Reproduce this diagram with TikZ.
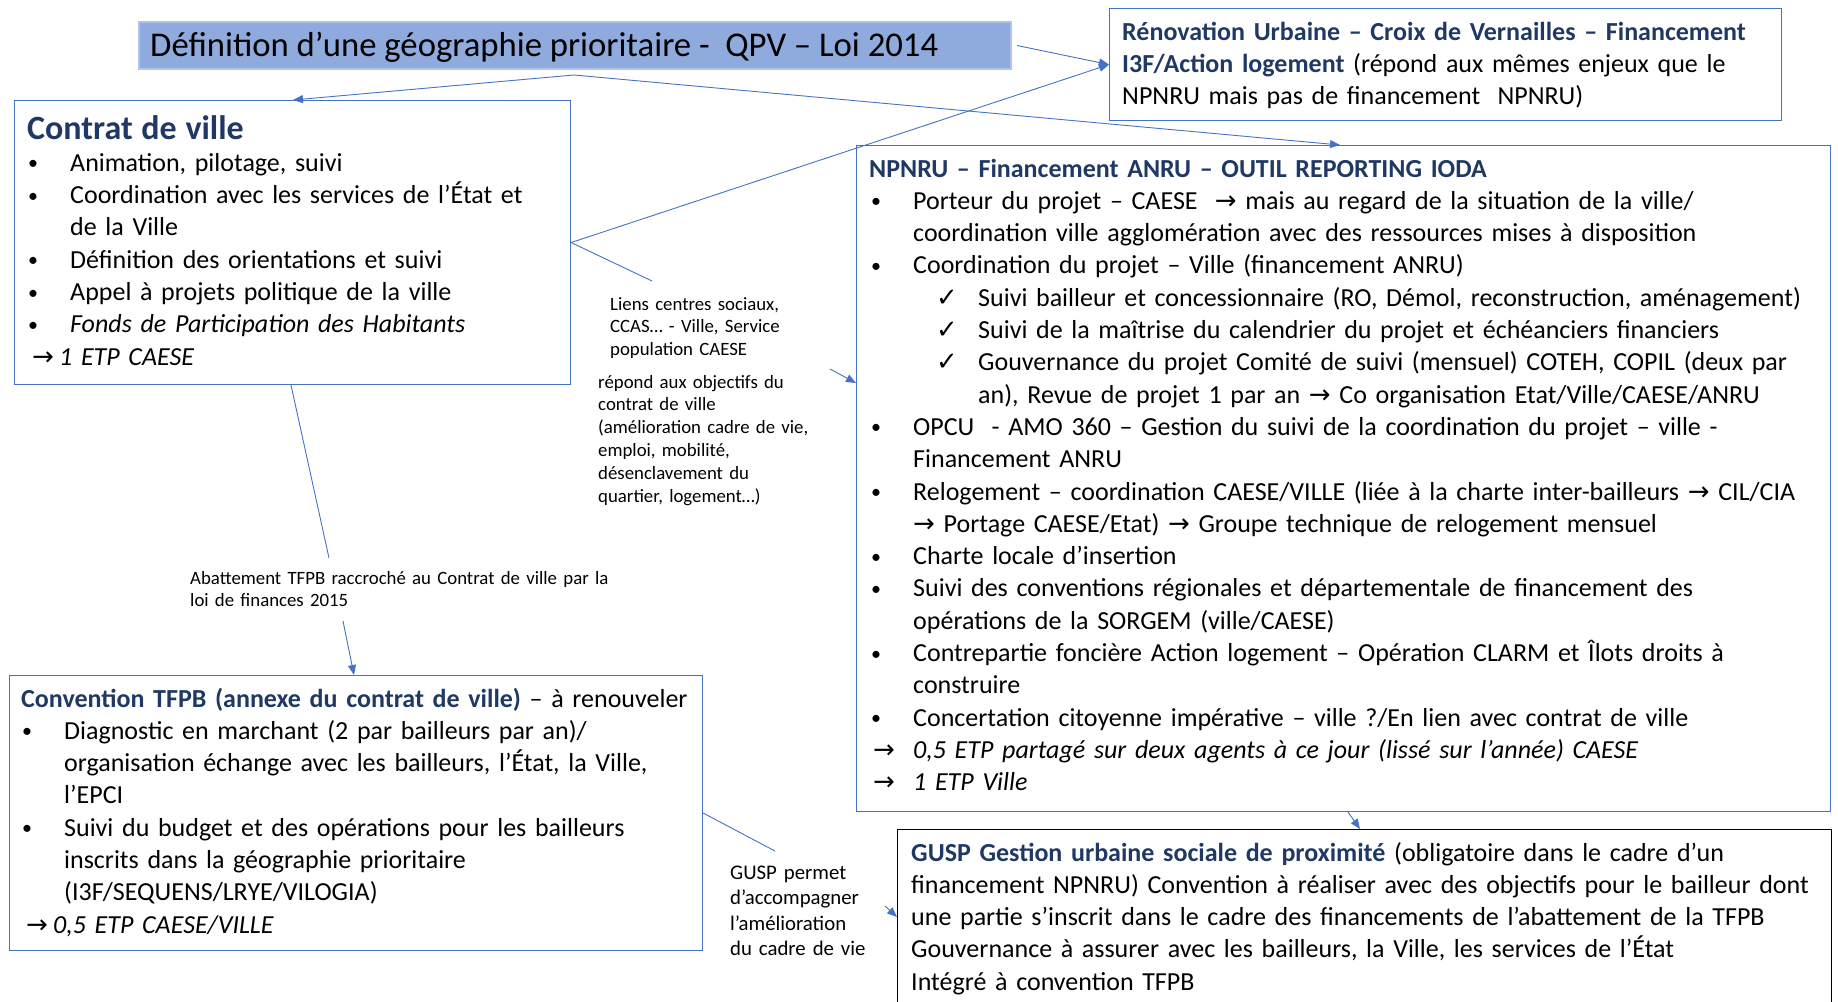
\documentclass[tikz,border=0pt]{standalone}
\usepackage{fontspec}
\setmainfont{Carlito}
\newfontfamily\symfont{DejaVu Sans}
\usepackage{tikz}
\usetikzlibrary{
  arrows.meta,
  positioning
}
\definecolor{trait}{HTML}{4472C4}
\definecolor{titrefond}{HTML}{8FAADC}
\definecolor{bleunuit}{HTML}{1F3864}
\newcommand{\flch}{{\symfont\char"2192}}
% list lines: #1 = offset of the mark, #2 = offset of the text
\newcommand{\puce}[2]{\par\noindent\hangindent=#2\hangafter=1\makebox[#2][l]{\hspace*{#1}{\fontsize{20}{20}\selectfont\raisebox{1.5pt}{\textbullet}}}\ignorespaces}
\newcommand{\coche}[2]{\par\noindent\hangindent=#2\hangafter=1\makebox[#2][l]{\hspace*{#1}{\symfont\char"2713}}\ignorespaces}
\newcommand{\lignefl}[2]{\par\noindent\hangindent=#2\hangafter=1\makebox[#2][l]{\hspace*{#1}\flch}\ignorespaces}

\begin{document}
\begin{tikzpicture}[
  x=1pt, y=-1pt,
  boite/.style={draw=trait, line width=1.1pt, anchor=north west, inner sep=0pt},
  texte/.style={anchor=base west, inner sep=0pt, align=left, text width=#1,
                font=\fontsize{26}{32.3}\selectfont},
  petit/.style={anchor=base west, inner sep=0pt, align=left, text width=#1,
                font=\fontsize{18.8}{22.8}\selectfont},
  fleche/.style={draw=trait, line width=0.9pt, -{Triangle[length=10pt,width=8pt]}},
  lien/.style={draw=trait, line width=0.9pt},
]
  \useasboundingbox (0,0) rectangle (1838,1001);
  \clip (0,0) rectangle (1838,1001);

  % Title
  \node[boite, draw=titrefond!70!white, line width=2pt, fill=titrefond,
        minimum width=872pt, minimum height=47pt] (titre) at (138,21) {};
  \node[anchor=base west, inner sep=0pt, font=\fontsize{34.7}{38}\selectfont]
    (titreTxt) at (150,56) {Définition d’une géographie prioritaire -\ \ QPV – Loi 2014};

  % Boxes
  \node[boite, minimum width=672pt, minimum height=112pt] (renov) at (1109,8) {};
  \node[boite, minimum width=556pt, minimum height=284pt] (contrat) at (14,100) {};
  \node[boite, minimum width=974pt, minimum height=666pt] (npnru) at (856,145) {};
  \node[boite, minimum width=693pt, minimum height=275pt] (tfpb) at (9,675) {};
  \node[boite, draw=black, minimum width=934pt, minimum height=200pt] (gusp) at (897,829) {};

  % Texts of the boxes
  \node[texte=660pt] (renovTxt) at (1122,40) {%
    {\bfseries\color{bleunuit}Rénovation Urbaine – Croix de Vernailles – Financement\\
    I3F/Action logement} (répond aux mêmes enjeux que le\\
    NPNRU mais pas de financement\ \ NPNRU)};

  \node[texte=540pt] (contratTxt) at (27,139) {%
    {\fontsize{34}{36}\selectfont\bfseries\color{bleunuit}Contrat de ville}
    \puce{1pt}{43pt}Animation, pilotage, suivi
    \puce{1pt}{43pt}Coordination avec les services de l’État et\break de la Ville
    \puce{1pt}{43pt}Définition des orientations et suivi
    \puce{1pt}{43pt}Appel à projets politique de la ville
    \puce{1pt}{43pt}\textit{Fonds de Participation des Habitants}
    \lignefl{5pt}{32pt}\textit{1 ETP CAESE}\par};

  \node[texte=960pt] (npnruTxt) at (869,177) {%
    {\bfseries\color{bleunuit}NPNRU – Financement ANRU – OUTIL REPORTING IODA}
    \puce{2pt}{44pt}Porteur du projet – CAESE\ \ \flch\ mais au regard de la situation de la ville/\break
      coordination ville agglomération avec des ressources mises à disposition
    \puce{2pt}{44pt}Coordination du projet – Ville (financement ANRU)
    \coche{67pt}{109pt}Suivi bailleur et concessionnaire (RO, Démol, reconstruction, aménagement)
    \coche{67pt}{109pt}Suivi de la maîtrise du calendrier du projet et échéanciers financiers
    \coche{67pt}{109pt}Gouvernance du projet Comité de suivi (mensuel) COTEH, COPIL (deux par\break
      an), Revue de projet 1 par an \flch\ Co organisation Etat/Ville/CAESE/ANRU
    \puce{2pt}{44pt}OPCU\ \ - AMO 360 – Gestion du suivi de la coordination du projet – ville -\break
      Financement ANRU
    \puce{2pt}{44pt}Relogement – coordination CAESE/VILLE (liée à la charte inter-bailleurs \flch\ CIL/CIA\break
      \flch\ Portage CAESE/Etat) \flch\ Groupe technique de relogement mensuel
    \puce{2pt}{44pt}Charte locale d’insertion
    \puce{2pt}{44pt}Suivi des conventions régionales et départementale de financement des\break
      opérations de la SORGEM (ville/CAESE)
    \puce{2pt}{44pt}Contrepartie foncière Action logement – Opération CLARM et Îlots droits à\break
      construire
    \puce{2pt}{44pt}Concertation citoyenne impérative – ville ?/En lien avec contrat de ville
    \lignefl{4pt}{44pt}\textit{0,5 ETP partagé sur deux agents à ce jour (lissé sur l’année) CAESE}
    \lignefl{4pt}{44pt}\textit{1 ETP Ville}\par};

  \node[texte=690pt] (tfpbTxt) at (21,707) {%
    {\bfseries\color{bleunuit}Convention TFPB (annexe du contrat de ville)} – à renouveler
    \puce{1pt}{43pt}Diagnostic en marchant (2 par bailleurs par an)/\break
      organisation échange avec les bailleurs, l’État, la Ville,\break l’EPCI
    \puce{1pt}{43pt}Suivi du budget et des opérations pour les bailleurs\break
      inscrits dans la géographie prioritaire\break (I3F/SEQUENS/LRYE/VILOGIA)
    \lignefl{5pt}{32pt}\textit{0,5 ETP CAESE/VILLE}\par};

  \node[texte=930pt] (guspTxt) at (911,861) {%
    {\bfseries\color{bleunuit}GUSP Gestion urbaine sociale de proximité} (obligatoire dans le cadre d’un\\
    financement NPNRU) Convention à réaliser avec des objectifs pour le bailleur dont\\
    une partie s’inscrit dans le cadre des financements de l’abattement de la TFPB\\
    Gouvernance à assurer avec les bailleurs, la Ville, les services de l’État\\
    Intégré à convention TFPB};

  % Labels on the links
  \node[petit=220pt] (liens) at (610,310)
    {Liens centres sociaux,\\ CCAS… - Ville, Service\\ population CAESE};
  \node[petit=240pt] (repond) at (598,388)
    {répond aux objectifs du\\ contrat de ville\\ (amélioration cadre de vie,\\ emploi, mobilité,\\ désenclavement du\\ quartier, logement…)};
  \node[petit=470pt] (abattement) at (190,584)
    {Abattement TFPB raccroché au Contrat de ville par la\\ loi de finances 2015};
  \node[anchor=base west, inner sep=0pt, align=left, text width=170pt,
        font=\fontsize{20.8}{25.5}\selectfont] (guspNote) at (730,879)
    {GUSP permet\\ d’accompagner\\ l’amélioration\\ du cadre de vie};

  % Free ends of the broken links
  \coordinate (finLiens) at (652,281);
  \coordinate (debRepond) at (830,369);
  \coordinate (finAbat) at (329,558);
  \coordinate (debAbat) at (343,621);
  \coordinate (finGusp) at (775,851);
  \coordinate (debGusp) at (885,906);

  % Links
  \draw[fleche] ([xshift=436pt,yshift=-5pt]titre.south west) -- ([xshift=279pt]contrat.north west);
  \draw[fleche] ([xshift=436pt,yshift=-5pt]titre.south west) -- ([xshift=484pt]npnru.north west);
  \draw[fleche] ([xshift=5pt]titre.east) -- (renov.west);
  \draw[fleche] (contrat.east) -- (renov.west);
  \draw[lien] (contrat.east) -- (finLiens);
  \draw[fleche] (debRepond) -- ([yshift=-238pt]npnru.north west);
  \draw[lien] ([xshift=277pt]contrat.south west) -- (finAbat);
  \draw[fleche] (debAbat) -- ([xshift=345pt]tfpb.north west);
  \draw[lien] (tfpb.east) -- (finGusp);
  \draw[fleche] (debGusp) -- ([yshift=-88pt]gusp.north west);
  \draw[fleche] ([xshift=492pt]npnru.south west) -- ([xshift=463pt]gusp.north west);

\end{tikzpicture}
\end{document}
